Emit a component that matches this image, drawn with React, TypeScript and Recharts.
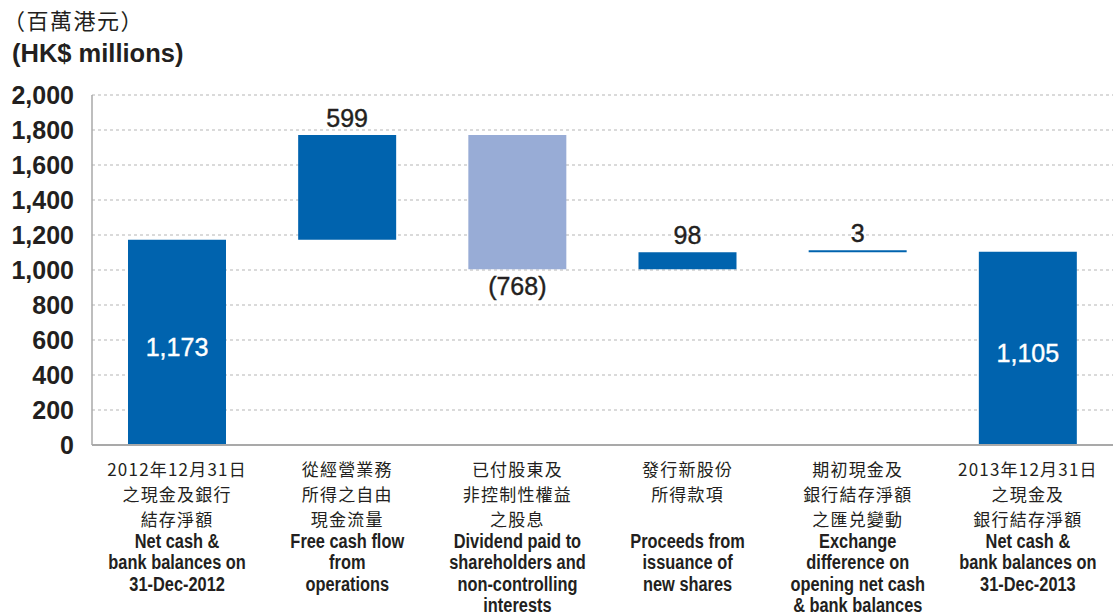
import { Bar, BarChart, CartesianGrid, Cell, LabelList, XAxis, YAxis } from "recharts";

const cnLabels = [
	["2012年12月31日", "之現金及銀行", "結存淨額"],
	["從經營業務", "所得之自由", "現金流量"],
	["已付股東及", "非控制性權益", "之股息"],
	["發行新股份", "所得款項"],
	["期初現金及", "銀行結存淨額", "之匯兑變動"],
	["2013年12月31日", "之現金及", "銀行結存淨額"],
];

const enLabels = [
	["Net cash &", "bank balances on", "31-Dec-2012"],
	["Free cash flow", "from", "operations"],
	["Dividend paid to", "shareholders and", "non-controlling", "interests"],
	["Proceeds from", "issuance of", "new shares"],
	["Exchange", "difference on", "opening net cash", "& bank balances"],
	["Net cash &", "bank balances on", "31-Dec-2013"],
];

const amounts = [1173, 599, -768, 98, 3, 1105];
const isTotal = [true, false, false, false, false, true];

const yTicks = [0, 200, 400, 600, 800, 1000, 1200, 1400, 1600, 1800, 2000];

const DARK = "#0063ae";
const LIGHT = "#98acd6";
const TEXT = "#231f20";
const SANS = "'Liberation Sans', Arial, sans-serif";

let running = 0;
const data = amounts.map((v, i) => {
	let base = 0;
	let value = v;
	if (isTotal[i]) {
		running = v;
	} else if (v >= 0) {
		base = running;
		running += v;
	} else {
		base = running + v;
		value = -v;
		running += v;
	}
	return { name: String(i), base, value, amount: v, total: isTotal[i] };
});

const fmt = (v: number) =>
	v < 0 ? `(${Math.abs(v).toLocaleString("en-US")})` : v.toLocaleString("en-US");

function CategoryTick(props: any) {
	const { x, y, payload } = props;
	const i = payload.index;
	return (
		<g>
			{cnLabels[i].map((t, k) => (
				<text
					key={"c" + k}
					x={x}
					y={y + 29 + k * 25}
					textAnchor="middle"
					fill={TEXT}
					fontSize={17}
					letterSpacing={1.2}
					fontFamily="'Noto Sans CJK TC', sans-serif"
				>
					{t}
				</text>
			))}
			{enLabels[i].map((t, k) => (
				<text
					key={"e" + k}
					transform={`translate(${x},${y + 101 + k * 21.3}) scale(0.78,1)`}
					x={0}
					y={0}
					textAnchor="middle"
					fill={TEXT}
					fontSize={21}
					fontWeight="bold"
					fontFamily={SANS}
				>
					{t}
				</text>
			))}
		</g>
	);
}

function ValueLabel(props: any) {
	const { x, y, width, height, index } = props;
	const d = data[index];
	const cx = x + width / 2;
	let ty = y - 8;
	let fill = TEXT;
	if (d.total) {
		ty = y + height / 2 + 14;
		fill = "#fff";
	} else if (d.amount < 0) {
		ty = y + height + 26;
	}
	return (
		<text x={cx} y={ty} textAnchor="middle" fill={fill} fontSize={25} fontFamily={SANS} stroke={fill} strokeWidth={0.4}>
			{fmt(d.amount)}
		</text>
	);
}

export default function App() {
	return (
		<div style={{ position: "absolute", left: 0, top: 0, width: 1113, height: 613, background: "#fff" }}>
			<div
				style={{
					position: "absolute",
					left: 3,
					top: 5,
					fontSize: 22,
					letterSpacing: 1.5,
					color: TEXT,
					fontFamily: "'Noto Sans CJK TC', sans-serif",
					lineHeight: "28px",
				}}
			>
				（百萬港元）
			</div>
			<div
				style={{
					position: "absolute",
					left: 12,
					top: 39,
					fontSize: 25.5,
					fontWeight: "bold",
					color: TEXT,
					fontFamily: SANS,
					lineHeight: "28px",
				}}
			>
				(HK$ millions)
			</div>
			<BarChart
				width={1113}
				height={613}
				data={data}
				margin={{ top: 95, right: 0, left: 0, bottom: 0 }}
				barCategoryGap={36}
				style={{ position: "absolute", left: 0, top: 0 }}
			>
				<CartesianGrid vertical={false} stroke="#b5b5b5" strokeDasharray="3 3" />
				<XAxis
					dataKey="name"
					height={168}
					tick={<CategoryTick />}
					tickLine={false}
					tickSize={0}
					axisLine={{ stroke: "#a9a9a9", strokeWidth: 2 }}
					interval={0}
				/>
				<YAxis
					width={92}
					domain={[0, 2000]}
					ticks={yTicks}
					tickFormatter={(v: number) => v.toLocaleString("en-US")}
					tickLine={false}
					tickSize={0}
					tickMargin={18}
					axisLine={{ stroke: "#a9a9a9", strokeWidth: 1.5 }}
					tick={{ fill: TEXT, fontSize: 25, fontWeight: "bold", fontFamily: SANS }}
				/>
				<Bar dataKey="base" stackId="w" fill="transparent" isAnimationActive={false} />
				<Bar dataKey="value" stackId="w" isAnimationActive={false} minPointSize={2}>
					{data.map((d, i) => (
						<Cell key={i} fill={d.amount < 0 ? LIGHT : DARK} />
					))}
					<LabelList dataKey="value" content={<ValueLabel />} />
				</Bar>
			</BarChart>
		</div>
	);
}
